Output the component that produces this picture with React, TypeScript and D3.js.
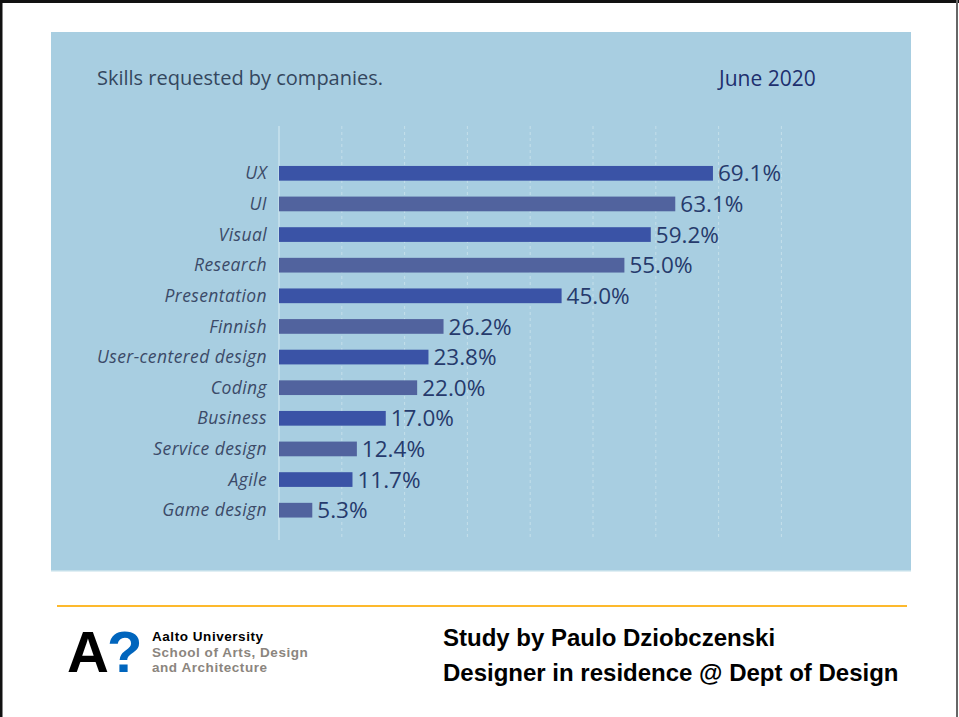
import React from "react";
import * as d3 from "d3";

const categories = ["UX", "UI", "Visual", "Research", "Presentation", "Finnish", "User-centered design", "Coding", "Business", "Service design", "Agile", "Game design"];
const values = [69.1, 63.1, 59.2, 55.0, 45.0, 26.2, 23.8, 22.0, 17.0, 12.4, 11.7, 5.3];
const gridTicks = [10, 20, 30, 40, 50, 60, 70, 80];

export default function App() {
  const W = 959, H = 717;
  const x = d3.scaleLinear().domain([0, 10]).range([279, 341.8]);
  const y = d3.scaleBand<string>().domain(categories).range([158, 525.5]).paddingInner(0.52).paddingOuter(0.26);
  const fmt = d3.format(".1f");
  const colA = "#3a53a6";
  const colB = "#51639e";
  return (
    <svg width={W} height={H} style={{ position: "absolute", left: 0, top: 0 }}>
      <rect x={0} y={0} width={W} height={H} fill="#ffffff" />
      {/* frame */}
      <rect x={0} y={0} width={W} height={3} fill="#111" />
      <rect x={0} y={0} width={2.5} height={H} fill="#111" />
      <rect x={956} y={0} width={2} height={H} fill="#666" />
      {/* panel */}
      <rect x={51} y={32} width={860} height={539} fill="#a8cee1" />
      <rect x={51} y={570} width={860} height={1.5} fill="#c4dfea" />
      <text x={97} y={85} fontFamily="Open Sans, sans-serif" fontSize={20} fill="#34475e">Skills requested by companies.</text>
      <text x={719} y={86} fontFamily="Open Sans, sans-serif" fontSize={21} fill="#1d2f6e">June 2020</text>
      {/* grid */}
      <line x1={x(0)} x2={x(0)} y1={126} y2={540} stroke="#c9e2ec" strokeWidth={1.5} />
      {gridTicks.map((t) => (
        <line key={t} x1={x(t)} x2={x(t)} y1={126} y2={540} stroke="#c4dfea" strokeWidth={1} strokeDasharray="3,3" />
      ))}
      {categories.map((c, i) => {
        const yy = y(c)!;
        const bw = y.bandwidth();
        return (
          <g key={c}>
            <rect x={x(0)} y={yy} width={x(values[i]) - x(0)} height={bw} fill={i % 2 === 0 ? colA : colB} />
            <text x={267} y={yy + bw / 2} dy="0.35em" textAnchor="end" fontFamily="Open Sans, sans-serif" fontStyle="italic" fontSize={17.5} letterSpacing={0.4} fill="#3b4a68">{c}</text>
            <text x={x(values[i]) + 5} y={yy + bw / 2} dy="0.36em" fontFamily="Open Sans, sans-serif" fontSize={22.5} fill="#263a6c">{fmt(values[i])}%</text>
          </g>
        );
      })}
      {/* footer */}
      <line x1={57} x2={907} y1={606} y2={606} stroke="#fdb92d" strokeWidth={2} />
      <text x={67} y={672} fontFamily="Liberation Sans, Arial, sans-serif" fontWeight="bold" fontSize={58} fill="#000">A</text>
      <text x={107} y={672} fontFamily="Liberation Sans, Arial, sans-serif" fontWeight="bold" fontSize={58} fill="#0065bd">?</text>
      <text x={152} y={641} fontFamily="Liberation Sans, Arial, sans-serif" fontWeight="bold" fontSize={13.5} letterSpacing={0.55} fill="#000">Aalto University</text>
      <text x={152} y={657} fontFamily="Liberation Sans, Arial, sans-serif" fontWeight="bold" fontSize={13.5} letterSpacing={0.55} fill="#8b857e">School of Arts, Design</text>
      <text x={152} y={672} fontFamily="Liberation Sans, Arial, sans-serif" fontWeight="bold" fontSize={13.5} letterSpacing={0.55} fill="#8b857e">and Architecture</text>
      <text x={443} y={646} fontFamily="Liberation Sans, Arial, sans-serif" fontWeight="bold" fontSize={24} fill="#000">Study by Paulo Dziobczenski</text>
      <text x={443} y={681} fontFamily="Liberation Sans, Arial, sans-serif" fontWeight="bold" fontSize={24} fill="#000">Designer in residence @ Dept of Design</text>
    </svg>
  );
}
